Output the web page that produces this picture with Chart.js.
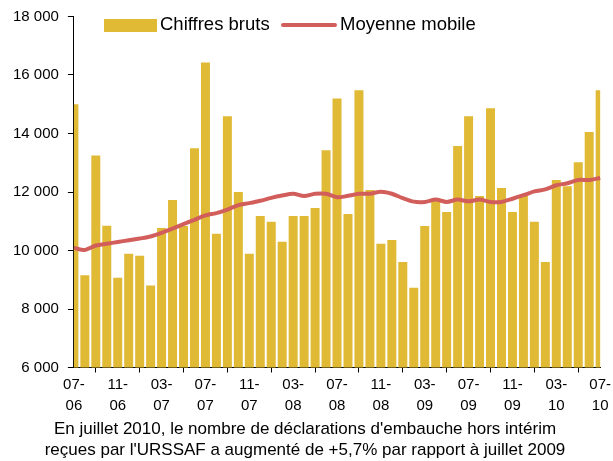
<!DOCTYPE html>
<html>
<head>
<meta charset="utf-8">
<script src="https://cdn.jsdelivr.net/npm/chart.js@4"></script>
<style>
  html, body { margin: 0; padding: 0; background: #fff; }
  #wrap { width: 613px; height: 461px; }
</style>
</head>
<body>
<div id="wrap"><canvas id="chart" width="613" height="461"></canvas></div>
<script>
"use strict"

// months 07-06 .. 07-10
var months = ["07-06","08-06","09-06","10-06","11-06","12-06","01-07","02-07","03-07","04-07","05-07","06-07",
    "07-07","08-07","09-07","10-07","11-07","12-07","01-08","02-08","03-08","04-08","05-08","06-08",
    "07-08","08-08","09-08","10-08","11-08","12-08","01-09","02-09","03-09","04-09","05-09","06-09",
    "07-09","08-09","09-09","10-09","11-09","12-09","01-10","02-10","03-10","04-10","05-10","06-10","07-10"];

// raw counts
var rawValues = [15000,9150,13250,10850,9070,9890,9820,8800,10770,11730,10840,13500,
    16430,10570,14590,12000,9890,11180,10980,10300,11180,11180,11450,13430,
    15200,11250,15480,12070,10230,10360,9610,8730,10840,11730,11320,13570,
    14590,11860,14860,12140,11320,11860,10980,9610,12410,12200,13020,14050,15480];

// moving average
var avgValues = [10090,10020,10170,10230,10290,10350,10410,10480,10600,10750,10900,11050,
    11200,11280,11400,11550,11620,11700,11800,11880,11940,11860,11940,11940,
    11820,11870,11940,11940,12010,11940,11790,11670,11660,11740,11660,11740,
    11680,11740,11660,11660,11770,11890,12020,12090,12230,12300,12410,12410,12480];

var yTicks = [6000,8000,10000,12000,14000,16000,18000];

var strFont = "'Liberation Sans', Arial, sans-serif";
var strBarColor = "#E0B935";
var strLineColor = "#D25E5C";

// legend drawn inside the plot, like the original
var insideLegend = {
    id: "insideLegend",
    afterDraw: function(chart){
        var ctx = chart.ctx;
        var dsLine = chart.data.datasets[0];
        var dsBar = chart.data.datasets[1];
        ctx.save();
        ctx.font = "18.5px " + strFont;
        ctx.textBaseline = "middle";
        var y = 25;
        // bar entry
        ctx.fillStyle = dsBar.backgroundColor;
        ctx.fillRect(104, 19, 53, 13);
        ctx.fillStyle = "#000";
        ctx.fillText(dsBar.label, 160, y);
        // line entry
        ctx.strokeStyle = dsLine.borderColor;
        ctx.lineWidth = 4;
        ctx.lineCap = "round";
        ctx.beginPath();
        ctx.moveTo(283, y);
        ctx.lineTo(335, y);
        ctx.stroke();
        ctx.fillText(dsLine.label, 340, y);
        ctx.restore();
    }
};

new Chart("chart", {
    type: "bar",
    data: {
        labels: months,
        datasets: [{
            type: "line",
            label: "Moyenne mobile",
            data: avgValues,
            borderColor: strLineColor,
            borderWidth: 4,
            pointRadius: 0,
            tension: 0.3,
            order: 0
        },{
            label: "Chiffres bruts",
            data: rawValues,
            backgroundColor: strBarColor,
            categoryPercentage: 1,
            barPercentage: 0.82,
            order: 1
        }]
    },
    plugins: [insideLegend],
    options: {
        responsive: false,
        animation: false,
        layout: { padding: { top: 0, right: 7, left: 4, bottom: 0 } },
        plugins: {
            legend: { display: false },
            tooltip: { enabled: false },
            title: {
                display: true,
                position: "bottom",
                text: ["En juillet 2010, le nombre de déclarations d'embauche hors intérim",
                       "reçues par l'URSSAF a augmenté de +5,7% par rapport à juillet 2009"],
                color: "#000",
                font: { family: strFont, size: 17, weight: "normal", lineHeight: 1.25 },
                padding: { top: 0, bottom: 0 }
            }
        },
        scales: {
            x: {
                offset: false,
                grid: { display: true, drawOnChartArea: false, drawTicks: true, tickLength: 5, color: "#000" },
                border: { display: true, color: "#000", width: 1 },
                ticks: {
                    autoSkip: false,
                    maxRotation: 0,
                    color: "#000",
                    font: { family: strFont, size: 15, lineHeight: 1.4 },
                    padding: 2,
                    callback: function(val, i){
                        if(i % 4 != 0) return null;
                        var s = months[i].split("-");
                        return [s[0] + "-", s[1]];
                    }
                }
            },
            y: {
                min: 6000,
                max: 18000,
                afterBuildTicks: function(axis){
                    axis.ticks = yTicks.map(function(v){ return { value: v }; });
                },
                grid: { display: true, drawOnChartArea: false, drawTicks: true, tickLength: 6, color: "#000" },
                border: { display: true, color: "#000", width: 1 },
                ticks: {
                    color: "#000",
                    font: { family: strFont, size: 15, lineHeight: 1 },
                    padding: 9,
                    callback: function(v){
                        return String(v).replace(/\B(?=(\d{3})+(?!\d))/g, " ");
                    }
                }
            }
        }
    }
});
</script>
</body>
</html>
